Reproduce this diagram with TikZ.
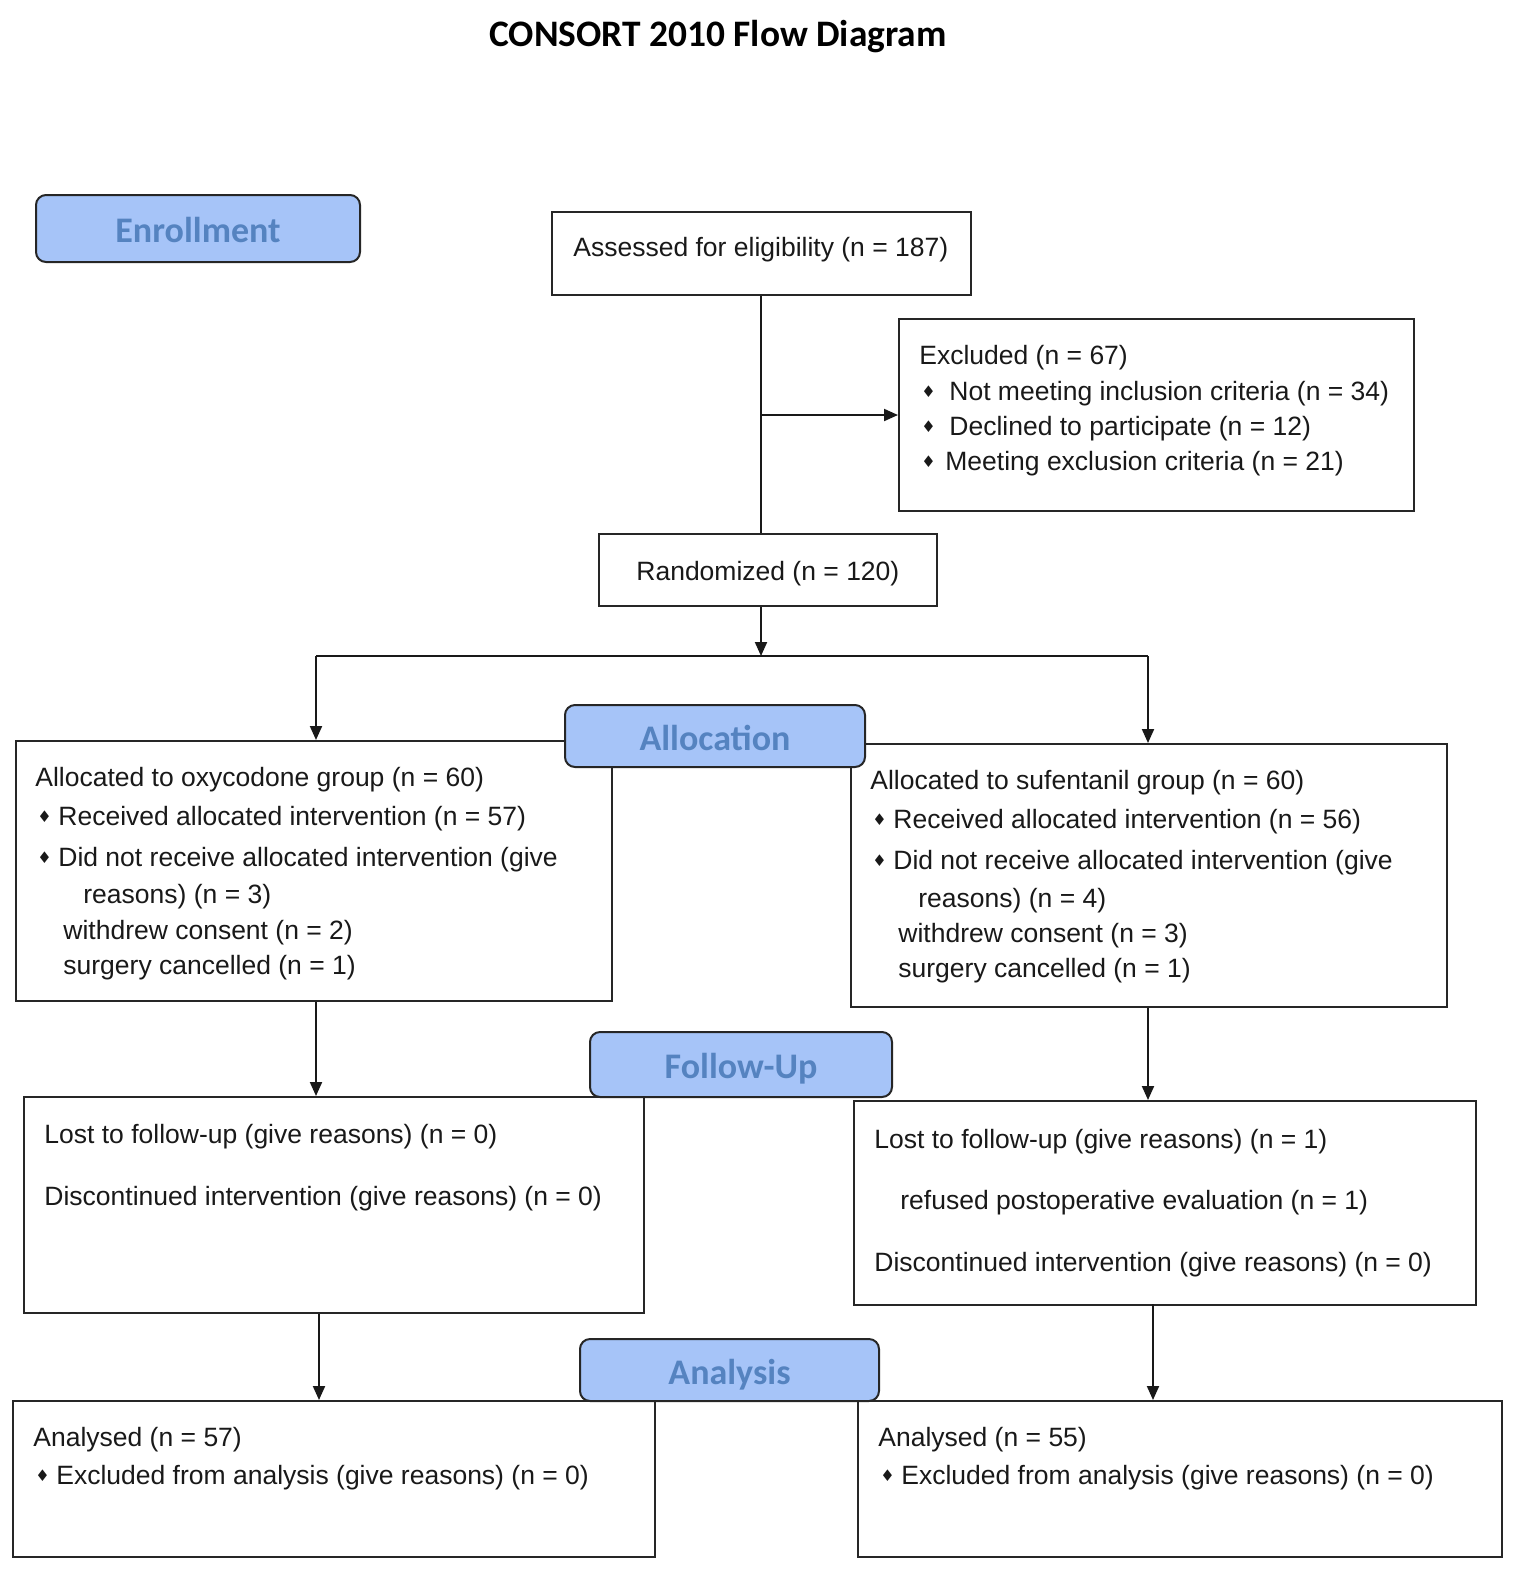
\documentclass[tikz,border=0pt]{standalone}
\usepackage{fontspec}
\setmainfont{Liberation Sans}
\newfontfamily\labfont{Carlito}
\newfontfamily\dvfont{DejaVu Sans}
\usetikzlibrary{arrows.meta}
\definecolor{labfill}{HTML}{A6C4F8}
\definecolor{labtext}{HTML}{5583C0}
\definecolor{boxline}{HTML}{262626}
\newcommand\dbul[1]{\makebox[#1][l]{\raisebox{1.3pt}{\dvfont\fontsize{8}{8}\selectfont ♦}}}
\newcommand\labtxt[1]{\raisebox{-7pt}[0pt][0pt]{#1}}
\begin{document}
\begin{tikzpicture}[x=0.5pt,y=-0.5pt,
  font=\fontsize{13.25}{16}\selectfont,
  box/.style={draw=boxline,line width=1pt,anchor=north west,inner sep=0pt,fill=white},
  lab/.style={draw=black!85,line width=1pt,rounded corners=5pt,fill=labfill,anchor=north west,inner sep=0pt,
    text=labtext,font=\labfont\bfseries\fontsize{18}{20}\selectfont},
  txt/.style={anchor=base west,inner sep=0pt,text=black!90},
  conn/.style={line width=1pt,black!90},
  arr/.style={conn,-{Triangle[length=7pt,width=6pt]}}]
\useasboundingbox (0,0) rectangle (1516,1571);

\node[anchor=center,inner sep=0pt,font=\labfont\bfseries\fontsize{18.7}{21}\selectfont] (title) at (718,37) {CONSORT 2010 Flow Diagram};

% boxes
\node[box,minimum width=209.5pt,minimum height=41.5pt] (assess) at (551,211) {};
\node[box,minimum width=257.5pt,minimum height=96pt] (excl) at (898,318) {};
\node[box,minimum width=169pt,minimum height=36pt] (rand) at (598,533) {};
\node[box,minimum width=298pt,minimum height=130pt] (allocL) at (15,740) {};
\node[box,minimum width=298pt,minimum height=131.5pt] (allocR) at (850,743) {};
\node[box,minimum width=310pt,minimum height=108pt] (fuL) at (23,1096) {};
\node[box,minimum width=311pt,minimum height=102pt] (fuR) at (853,1100) {};
\node[box,minimum width=321pt,minimum height=78pt] (anL) at (12,1400) {};
\node[box,minimum width=322pt,minimum height=78pt] (anR) at (857,1400) {};

% texts
\node[txt] (tAss) at (573,256) {Assessed for eligibility (n = 187)};
\node[txt] (tEx1) at (919,364) {Excluded (n = 67)};
\node[txt] (tEx2) at (921,400) {\dbul{14pt}Not meeting inclusion criteria (n = 34)};
\node[txt] (tEx3) at (921,435) {\dbul{14pt}Declined to participate (n = 12)};
\node[txt] (tEx4) at (921,470) {\dbul{12pt}Meeting exclusion criteria (n = 21)};
\node[txt] (tRand) at (636,580) {Randomized (n = 120)};

\node[txt] (tAL1) at (35,786) {Allocated to oxycodone group (n = 60)};
\node[txt] (tAL2) at (37,825) {\dbul{10.5pt}Received allocated intervention (n = 57)};
\node[txt] (tAL3) at (37,866) {\dbul{10.5pt}Did not receive allocated intervention (give};
\node[txt] (tAL4) at (83,903) {reasons) (n = 3)};
\node[txt] (tAL5) at (63,939) {withdrew consent (n = 2)};
\node[txt] (tAL6) at (63,974) {surgery cancelled (n = 1)};

\node[txt] (tAR1) at (870,789) {Allocated to sufentanil group (n = 60)};
\node[txt] (tAR2) at (872,828) {\dbul{10.5pt}Received allocated intervention (n = 56)};
\node[txt] (tAR3) at (872,869) {\dbul{10.5pt}Did not receive allocated intervention (give};
\node[txt] (tAR4) at (918,907) {reasons) (n = 4)};
\node[txt] (tAR5) at (898,942) {withdrew consent (n = 3)};
\node[txt] (tAR6) at (898,977) {surgery cancelled (n = 1)};

\node[txt] (tFL1) at (44,1143) {Lost to follow-up (give reasons) (n = 0)};
\node[txt] (tFL2) at (44,1205) {Discontinued intervention (give reasons) (n = 0)};

\node[txt] (tFR1) at (874,1148) {Lost to follow-up (give reasons) (n = 1)};
\node[txt] (tFR2) at (900,1209) {refused postoperative evaluation (n = 1)};
\node[txt] (tFR3) at (874,1271) {Discontinued intervention (give reasons) (n = 0)};

\node[txt] (tNL1) at (33,1446) {Analysed (n = 57)};
\node[txt] (tNL2) at (35,1484) {\dbul{10.5pt}Excluded from analysis (give reasons) (n = 0)};
\node[txt] (tNR1) at (878,1446) {Analysed (n = 55)};
\node[txt] (tNR2) at (880,1484) {\dbul{10.5pt}Excluded from analysis (give reasons) (n = 0)};

% helper coordinates
\coordinate (split) at (761,656);
\coordinate (xL) at (316,0);
\coordinate (xR) at (1148,0);
\coordinate (xL2) at (319,0);
\coordinate (xR2) at (1153,0);

% connectors
\draw[conn] (assess.south -| split) -- (rand.north -| split);
\draw[arr] (excl.west -| split) -- (excl.west);
\draw[arr] (rand.south -| split) -- (split);
\draw[conn] (xL |- split) -- (xR |- split);
\draw[arr] (xL |- split) -- (xL |- allocL.north);
\draw[arr] (xR |- split) -- (xR |- allocR.north);
\draw[arr] (xL |- allocL.south) -- (xL |- fuL.north);
\draw[arr] (xR |- allocR.south) -- (xR |- fuR.north);
\draw[arr] (xL2 |- fuL.south) -- (xL2 |- anL.north);
\draw[arr] ([yshift=1pt]xR2 |- fuR.south) -- (xR2 |- anR.north);

% section labels
\node[lab,minimum width=162pt,minimum height=33.5pt] (enroll) at (35,194) {\labtxt{Enrollment}};
\node[lab,minimum width=150pt,minimum height=31pt] (allocLab) at (564,704) {\labtxt{Allocation}};
\node[lab,minimum width=151pt,minimum height=32.5pt] (fuLab) at (589,1031) {\labtxt{Follow-Up}};
\node[lab,minimum width=149.5pt,minimum height=31pt] (anLab) at (579,1338) {\labtxt{Analysis}};
\end{tikzpicture}
\end{document}
